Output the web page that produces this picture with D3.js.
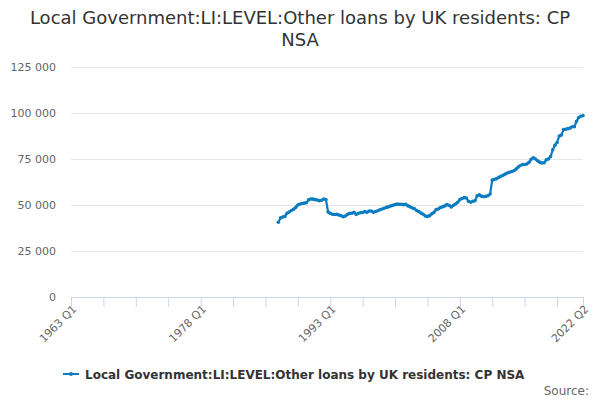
<!DOCTYPE html>
<html>
<head>
<meta charset="utf-8">
<script src="https://cdn.jsdelivr.net/npm/d3@7"></script>
<style>
  body { margin: 0; background: #fff; }
  svg { font-family: "DejaVu Sans", Verdana, sans-serif; }
</style>
</head>
<body>
<div class="chart"></div>
<script>
// axis runs 1963 Q1 .. 2022 Q2, series starts 1987 Q1
var firstYear = 1963, lastYear = 2022, lastQuarter = 2;
var seriesStart = "1987 Q1";
var seriesName = "Local Government:LI:LEVEL:Other loans by UK residents: CP NSA";
var titleLines = ["Local Government:LI:LEVEL:Other loans by UK residents: CP", "NSA"];
var yTicks = [0, 25000, 50000, 75000, 100000, 125000];
var xLabels = ["1963 Q1", "1978 Q1", "1993 Q1", "2008 Q1", "2022 Q2"];

// quarterly values (£m)
var values = [
  40600, 43000, 43500, 43800,   // 1987
  45500, 46200, 47000, 47700,   // 1988
  48700, 50000, 50500, 50800,   // 1989
  51000, 51300, 52800, 53300,   // 1990
  53200, 52900, 52700, 52300,   // 1991
  52600, 53300, 53000, 46200,   // 1992
  45500, 45000, 44800, 44900,   // 1993
  44600, 44200, 43600, 44000,   // 1994
  44900, 45500, 45500, 46000,   // 1995
  44900, 45500, 45800, 45900,   // 1996
  46400, 46000, 46700, 46700,   // 1997
  46000, 46500, 46900, 47400,   // 1998
  47800, 48200, 48700, 49000,   // 1999
  49500, 49800, 50200, 50500,   // 2000
  50400, 50400, 50200, 50400,   // 2001
  49500, 49000, 48400, 48000,   // 2002
  47000, 46400, 45600, 45000,   // 2003
  44000, 43800, 44200, 45200,   // 2004
  46000, 47500, 47800, 48600,   // 2005
  49000, 49500, 50200, 49800,   // 2006
  48900, 49800, 50500, 51500,   // 2007
  52900, 53500, 54000, 53800,   // 2008
  52000, 51500, 52000, 52300,   // 2009
  55000, 55500, 54800, 54500,   // 2010
  54700, 55000, 56000, 63500,   // 2011
  64000, 64300, 65000, 65600,   // 2012
  66200, 66800, 67400, 67800,   // 2013
  68200, 68600, 69500, 70600,   // 2014
  71500, 72000, 72000, 72300,   // 2015
  73200, 74800, 75700, 75000,   // 2016
  74000, 73300, 72800, 73000,   // 2017
  74500, 75000, 76300, 80000,   // 2018
  82500, 84000, 87500, 88000,   // 2019
  91000, 91200, 91500, 91800,   // 2020
  92500, 92500, 95500, 97500,   // 2021
  98200, 98600                  // 2022
];

var quarters = [];
for (var yr = firstYear; yr <= lastYear; yr++) {
  for (var qq = 1; qq <= 4; qq++) {
    if (yr == lastYear && qq > lastQuarter) break;
    quarters.push(yr + " Q" + qq);
  }
}

var startIdx = quarters.indexOf(seriesStart);
var data = values.map(function(v, i) { return {period: quarters[startIdx + i], value: v}; });

var width = 600, height = 400,
    margin = {top: 67, right: 17, bottom: 103, left: 71};

var svg = d3.select("div.chart").append("svg")
    .attr("width", width)
    .attr("height", height);

var x = d3.scalePoint()
    .domain(quarters)
    .range([margin.left, width - margin.right]);

var y = d3.scaleLinear()
    .domain([0, 125000])
    .range([height - margin.bottom, margin.top]);

var fmt = function(d) { return d3.format(",")(d).replace(/,/g, " "); };

// title
svg.append("text")
    .attr("x", width / 2)
    .attr("y", 24)
    .attr("text-anchor", "middle")
    .attr("fill", "#333")
    .style("font-size", "18px")
  .selectAll("tspan")
    .data(titleLines)
  .enter().append("tspan")
    .attr("x", width / 2)
    .attr("dy", function(d, i) { return i == 0 ? 0 : 22; })
    .text(function(d) { return d; });

// gridlines + y labels
var yAxis = svg.append("g")
    .attr("transform", "translate(" + margin.left + ",0)")
    .call(d3.axisLeft(y)
      .tickValues(yTicks)
      .tickSize(-(width - margin.left - margin.right))
      .tickPadding(15)
      .tickFormat(fmt));
yAxis.select(".domain").remove();
yAxis.selectAll(".tick line").attr("stroke", "#e6e6e6");
yAxis.selectAll(".tick text")
    .attr("fill", "#666")
    .style("font-size", "11px")
    .style("font-family", "DejaVu Sans, sans-serif");

// x axis: tick every 15 quarters plus last
var tickVals = quarters.filter(function(d, i) { return i % 15 == 0; });
tickVals.push(quarters[quarters.length - 1]);

var xAxis = svg.append("g")
    .attr("transform", "translate(0," + y(0) + ")")
    .call(d3.axisBottom(x)
      .tickValues(tickVals)
      .tickSize(10)
      .tickSizeOuter(0)
      .tickFormat(function(d) { return xLabels.indexOf(d) >= 0 ? d : ""; }));
xAxis.select(".domain").attr("stroke", "#ccd6eb");
xAxis.selectAll(".tick line").attr("stroke", "#ccd6eb");
xAxis.selectAll(".tick text")
    .attr("fill", "#666")
    .style("font-size", "11px")
    .style("font-family", "DejaVu Sans, sans-serif")
    .attr("text-anchor", "end")
    .attr("transform", "translate(3,10) rotate(-45)")
    .attr("dy", "0.35em")
    .attr("y", 0)
    .attr("x", 0);

// series
var color = "#0b7cc2";

var line = d3.line()
    .x(function(d) { return x(d.period); })
    .y(function(d) { return y(d.value); });

svg.append("path")
    .datum(data)
    .attr("fill", "none")
    .attr("stroke", color)
    .attr("stroke-width", 2.2)
    .attr("stroke-linejoin", "round")
    .attr("stroke-linecap", "round")
    .attr("d", line);

svg.selectAll(".dot")
    .data(data)
  .enter().append("circle")
    .attr("class", "dot")
    .attr("fill", color)
    .attr("r", 1.8)
    .attr("cx", function(d) { return x(d.period); })
    .attr("cy", function(d) { return y(d.value); });

// legend
var legend = svg.append("g").attr("transform", "translate(63,374)");
legend.append("line")
    .attr("x1", 0).attr("x2", 16)
    .attr("stroke", color)
    .attr("stroke-width", 2);
legend.append("circle")
    .attr("cx", 8).attr("r", 2)
    .attr("fill", color);
legend.append("text")
    .attr("x", 22)
    .attr("y", 5)
    .attr("fill", "#333")
    .style("font-size", "12px")
    .style("font-weight", "bold")
    .text(seriesName);

svg.append("text")
    .attr("x", 589)
    .attr("y", 395)
    .attr("text-anchor", "end")
    .attr("fill", "#666")
    .style("font-size", "12px")
    .text("Source:");
</script>
</body>
</html>
